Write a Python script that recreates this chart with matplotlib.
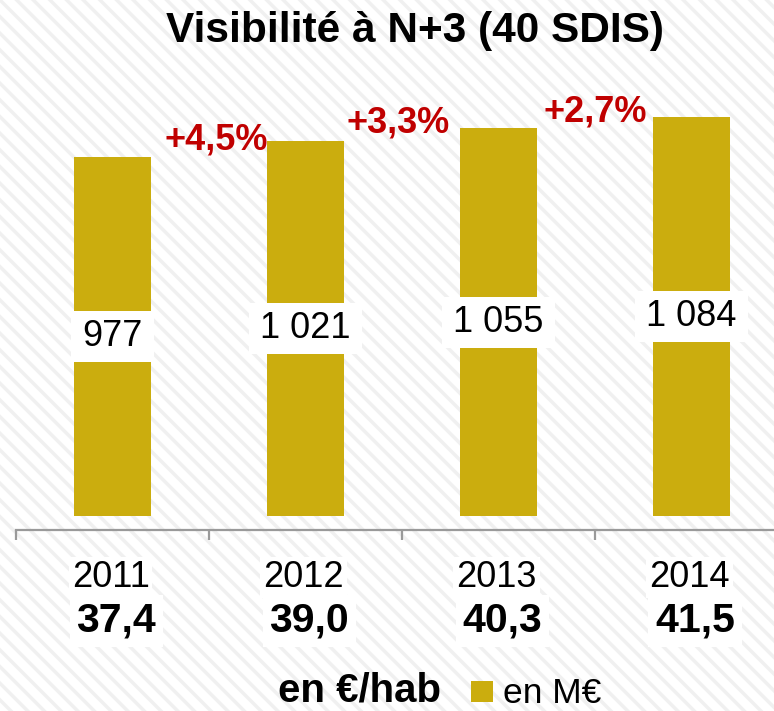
import matplotlib
matplotlib.use("Agg")
import matplotlib.pyplot as plt
from matplotlib.patches import Rectangle
from matplotlib import transforms

plt.rcParams['font.family'] = ['Liberation Sans', 'DejaVu Sans']
plt.rcParams['hatch.linewidth'] = 2.5
plt.rcParams['hatch.color'] = '#F0F0F0'

years = ['2011', '2012', '2013', '2014']
values_meur = [977, 1021, 1055, 1084]
value_labels = ['977', '1 021', '1 055', '1 084']
per_hab = ['37,4', '39,0', '40,3', '41,5']
growth = ['+4,5%', '+3,3%', '+2,7%']

GOLD = '#CBAD0E'
RED = '#C00000'

W, H = 774, 711
fig = plt.figure(figsize=(W / 100, H / 100), dpi=100)
fig.patch.set_facecolor('white')
bg = Rectangle((0, 0), 1, 1, transform=fig.transFigure, facecolor='white',
               edgecolor='#F0F0F0', hatch='\\\\', linewidth=0, zorder=-10)
fig.patches.append(bg)

# axes: x categories 193 px wide starting at 16 px; y zero at pixel 516
ax_left, ax_right = 16, 16 + 4 * 193
ax_top, ax_bot = 60, 530
ax = fig.add_axes([ax_left / W, (H - ax_bot) / H, (ax_right - ax_left) / W, (ax_bot - ax_top) / H])
ax.set_facecolor('none')
ylo = -(ax_bot - 516) * 2.72
yhi = (516 - ax_top) * 2.72
ax.set_xlim(-0.5, 3.5)
ax.set_ylim(ylo, yhi)

x = list(range(len(years)))
ax.bar(x, values_meur, width=0.404, color=GOLD, zorder=2)

for s in ['top', 'right', 'left']:
    ax.spines[s].set_visible(False)
ax.spines['bottom'].set_color('#9A9A9A')
ax.spines['bottom'].set_linewidth(1.6)
ax.spines['bottom'].set_clip_on(False)
ax.set_yticks([])
ax.set_xticks([i - 0.5 for i in range(len(years))])
ax.set_xticklabels([])
ax.tick_params(axis='x', direction='out', length=7.5, width=1.6, color='#9A9A9A')

# value labels with white boxes in the middle of each bar
fig.canvas.draw()
renderer = fig.canvas.get_renderer()
box_h = 51 * 2.72
for xi, v, lab in zip(x, values_meur, value_labels):
    t = ax.text(xi, v / 2, lab, ha='center', va='center', fontsize=26, color='black', zorder=4)
    wpx = t.get_window_extent(renderer).width + 22
    wdat = max(0.404, wpx / 193)
    ax.add_patch(Rectangle((xi - wdat / 2, v / 2 - box_h / 2), wdat, box_h,
                           facecolor='white', edgecolor='none', zorder=3))

# growth labels between bars
g_x = [0.536, 1.479, 2.50]
g_y = [1023, 1069, 1099]
for gx, gy, g in zip(g_x, g_y, growth):
    ax.text(gx, gy, g, ha='center', va='center', fontsize=26, fontweight='bold', color=RED, zorder=5)

# category labels below axis
bt = transforms.blended_transform_factory(ax.transData, fig.transFigure)
for xi, yr, ph in zip(x, years, per_hab):
    ax.text(xi - 0.01, (H - 587) / H, yr, transform=bt, ha='center', va='baseline', fontsize=26,
            color='black', bbox=dict(facecolor='white', edgecolor='none', pad=2), clip_on=False)
    ax.text(xi + 0.02, (H - 632) / H, ph, transform=bt, ha='center', va='baseline', fontsize=29.5,
            fontweight='bold', color='black',
            bbox=dict(facecolor='white', edgecolor='none', pad=5), clip_on=False)

# title
fig.text(415 / W, (H - 42) / H, 'Visibilité à N+3 (40 SDIS)', ha='center', va='baseline',
         fontsize=30.5, fontweight='bold')

# legend
fig.text(278 / W, 0.002, 'en €/hab', ha='left', va='bottom', fontsize=29, fontweight='bold')
fig.patches.append(Rectangle((471 / W, (H - 702) / H), 22 / W, 21 / H, transform=fig.transFigure,
                             facecolor=GOLD, edgecolor='none'))
fig.text(503 / W, 0.002, 'en M€', ha='left', va='bottom', fontsize=25.5)

fig.savefig('out.png', dpi=100)
